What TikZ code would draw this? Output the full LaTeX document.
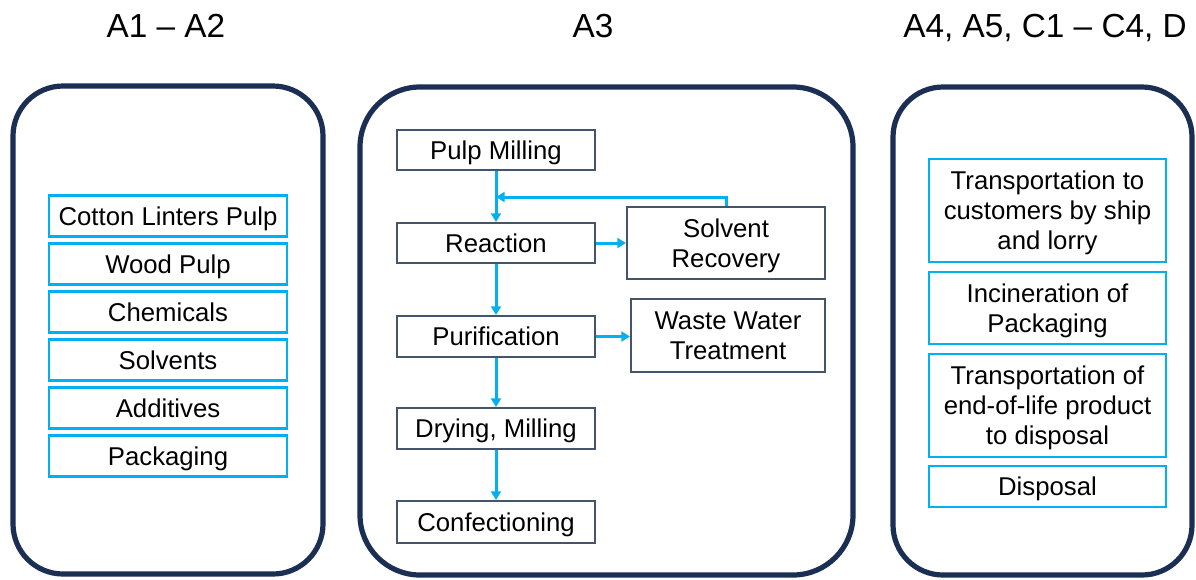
\documentclass[tikz,border=0pt]{standalone}
\usepackage{fontspec}
\setmainfont{Liberation Sans}
\usetikzlibrary{arrows.meta}
\definecolor{navy}{RGB}{27,46,84}
\definecolor{cyanb}{RGB}{0,176,240}
\definecolor{grayb}{RGB}{68,84,106}
\tikzset{
  panel/.style={draw=navy, line width=3.9pt},
  boxtext/.style={inner sep=0pt, align=center, text height=16pt, text depth=2.5pt,
    font=\fontsize{19.3}{22.5}\selectfont},
  twolines/.style={text height=38.5pt},
  threelines/.style={text height=61pt},
  inbox/.style={boxtext, draw=cyanb, line width=1.6pt, minimum width=177.75pt},
  procbox/.style={boxtext, draw=grayb, line width=1.6pt},
  header/.style={anchor=base, inner sep=0pt, font=\fontsize{25}{29}\selectfont},
  arr/.style={draw=cyanb, line width=2.25pt, -{Triangle[length=6.5pt,width=7.5pt]}}
}
\begin{document}
\begin{tikzpicture}[x=0.75pt,y=-0.75pt]
\useasboundingbox (0,0) rectangle (1196,579);
\fill[white] (0,0) rectangle (1196,579);
% headers
\node[header] (h1) at (166,37) {A1 – A2};
\node[header] (h2) at (593,37) {A3};
\node[header] (h3) at (1045,37) {A4, A5, C1 – C4, D};
% panels
\draw[panel, rounded corners=37.5pt] (13,86) rectangle (323,574);
\draw[panel, rounded corners=45pt] (360,87) rectangle (853,575);
\draw[panel, rounded corners=37.5pt] (893,87) rectangle (1192,575);
% left boxes
\node[inbox, minimum width=178.5pt, minimum height=30.75pt] (l1) at (168,216) {Cotton Linters Pulp};
\node[inbox, minimum width=178.5pt, minimum height=30.75pt] (l2) at (168,264) {Wood Pulp};
\node[inbox, minimum width=178.5pt, minimum height=30.75pt] (l3) at (168,312) {Chemicals};
\node[inbox, minimum width=178.5pt, minimum height=30.75pt] (l4) at (168,360) {Solvents};
\node[inbox, minimum width=178.5pt, minimum height=30.75pt] (l5) at (168,408) {Additives};
\node[inbox, minimum width=178.5pt, minimum height=30.75pt] (l6) at (168,456) {Packaging};
% middle boxes
\node[procbox, minimum width=148.5pt, minimum height=30pt] (pm) at (496,150) {Pulp Milling};
\node[procbox, minimum width=148.5pt, minimum height=30pt] (re) at (496,243) {Reaction};
\node[procbox, minimum width=148.5pt, minimum height=30.75pt] (pu) at (496,336.5) {Purification};
\node[procbox, minimum width=148.5pt, minimum height=30.75pt] (dm) at (496,428.5) {Drying, Milling};
\node[procbox, minimum width=148.5pt, minimum height=31.5pt] (co) at (496,522) {Confectioning};
\node[procbox, twolines, minimum width=148.5pt, minimum height=54pt] (sr) at (726,243) {Solvent\\Recovery};
\node[procbox, twolines, minimum width=145.5pt, minimum height=54.75pt] (ww) at (728,335.5) {Waste Water\\Treatment};
% arrows
\coordinate (fb) at (496,197);
\draw[arr] (pm.south) -- (re.north);
\draw[arr] (sr.north) |- (fb);
\draw[arr] (re.east) -- (sr.west);
\draw[arr] (re.south) -- (pu.north);
\draw[arr] (pu.east) -- (pu.east -| ww.west);
\draw[arr] (pu.south) -- (dm.north);
\draw[arr] (dm.south) -- (co.north);
% right boxes
\node[inbox, threelines, minimum height=77.25pt] (r1) at (1047.5,210.5) {Transportation to\\customers by ship\\and lorry};
\node[inbox, twolines, minimum height=54pt] (r2) at (1047.5,308) {Incineration of\\Packaging};
\node[inbox, threelines, minimum height=77.25pt] (r3) at (1047.5,405.5) {Transportation of\\end-of-life product\\to disposal};
\node[inbox, minimum height=30.75pt] (r4) at (1047.5,486.5) {Disposal};
\end{tikzpicture}
\end{document}
